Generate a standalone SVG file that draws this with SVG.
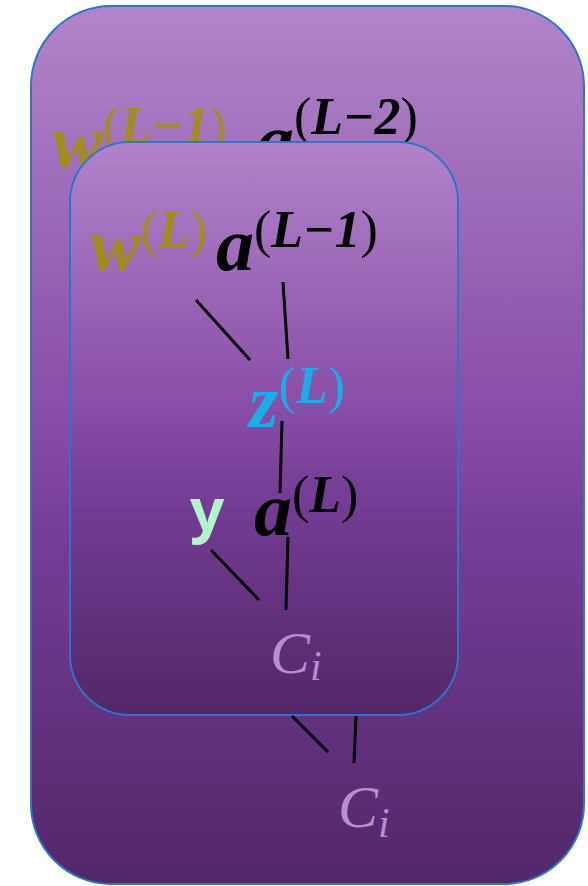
<svg xmlns="http://www.w3.org/2000/svg" width="588" height="886" viewBox="0 0 588 886">
<defs>
<linearGradient id="gOuter" x1="0" y1="0" x2="0" y2="1">
<stop offset="0" stop-color="#B185CA"/>
<stop offset="0.45" stop-color="#8A4FA8"/>
<stop offset="0.6" stop-color="#763D98"/>
<stop offset="1" stop-color="#522768"/>
</linearGradient>
<linearGradient id="gInner" x1="0" y1="0" x2="0" y2="1">
<stop offset="0" stop-color="#B183CA"/>
<stop offset="0.45" stop-color="#8A4FA8"/>
<stop offset="0.6" stop-color="#773E98"/>
<stop offset="1" stop-color="#522768"/>
</linearGradient>
<style>
.box{stroke:#2E75C8;stroke-width:2}
.m{font-family:"Liberation Serif","DejaVu Serif",serif;font-weight:bold;font-style:italic;font-size:76px}
.sup{font-size:52px}
.p{font-style:normal;font-weight:normal}
.w{fill:#A38B1E}
.k{fill:#000}
.z{fill:#1AAEE8}
.c{font-family:"Liberation Serif","DejaVu Serif",serif;font-style:italic;fill:#B68ED2;font-size:60px}
.ln{stroke:#000;stroke-width:3;fill:none}
</style>
</defs>
<g id="outer">
<rect class="box" x="31" y="6" width="553" height="878" rx="80" fill="url(#gOuter)"/>
<text class="m w" x="52" y="167">w<tspan class="sup" dy="-24"><tspan class="p">(</tspan>L−1<tspan class="p">)</tspan></tspan></text>
<text class="m k" x="256" y="166">a<tspan class="sup" dy="-32"><tspan class="p">(</tspan>L−2<tspan class="p">)</tspan></tspan></text>
</g>
<g id="inner">
<rect class="box" x="70" y="142" width="388" height="573" rx="60" fill="url(#gInner)"/>
<text class="m w" x="90" y="270">w<tspan class="sup" dy="-23"><tspan class="p">(</tspan>L<tspan class="p">)</tspan></tspan></text>
<text class="m k" x="216" y="270">a<tspan class="sup" dy="-23"><tspan class="p">(</tspan>L−1<tspan class="p">)</tspan></tspan></text>
</g>
<g id="z">
<text class="m z" x="249" y="427">z<tspan class="sup" dy="-24"><tspan class="p">(</tspan>L<tspan class="p">)</tspan></tspan></text>
</g>
<g id="y">
<text x="190" y="531" font-family="'Noto Sans','DejaVu Sans',sans-serif" font-weight="bold" font-size="60" fill="#B2F5CC">y</text>
</g>
<g id="aL">
<text class="m k" x="254" y="535">a<tspan class="sup" dy="-23"><tspan class="p">(</tspan>L<tspan class="p">)</tspan></tspan></text>
</g>
<g id="c1">
<text class="c" x="270" y="673">C<tspan font-size="42" dy="7">i</tspan></text>
</g>
<g id="c2">
<text class="c" x="338" y="827">C<tspan font-size="42" dy="10">i</tspan></text>
</g>
<g id="connectors">
<line class="ln" x1="196" y1="300" x2="250" y2="360"/>
<line class="ln" x1="283" y1="282" x2="288" y2="359"/>
<line class="ln" x1="282" y1="421" x2="280" y2="493"/>
<line class="ln" x1="211" y1="550" x2="259" y2="600"/>
<line class="ln" x1="288" y1="537" x2="286" y2="610"/>
<line class="ln" x1="292" y1="716" x2="328" y2="752"/>
<line class="ln" x1="356" y1="716" x2="354" y2="763"/>
</g>
</svg>
